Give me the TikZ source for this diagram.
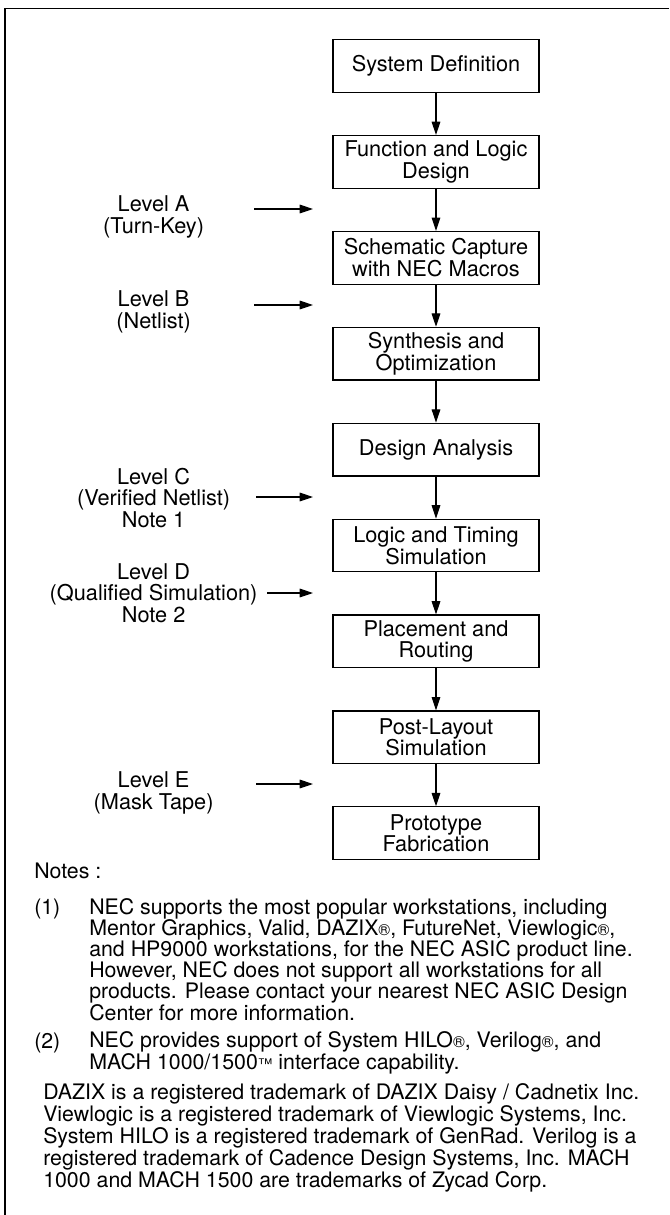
\documentclass[tikz,border=0pt]{standalone}
\usepackage{fontspec}
\setmainfont{TeX Gyre Heros}
\usetikzlibrary{arrows.meta}
\newcommand{\regd}{{\fontsize{12}{12}\selectfont ®}}
\newcommand{\tmk}{{\fontsize{11}{11}\selectfont ™}}
\tikzset{
  stage/.style={draw, line width=0.9pt, minimum width=154.5pt, minimum height=39.5pt,
    inner sep=0pt, align=center, font=\fontsize{16.3}{16.3}\selectfont},
  levelname/.style={align=center, inner sep=0pt, font=\fontsize{16.3}{16.3}\selectfont},
  flow/.style={line width=0.8pt, -{Triangle[length=10pt,width=6.5pt]}},
  notetext/.style={anchor=base west, align=left, inner sep=0pt, font=\fontsize{16}{15.9}\selectfont},
}

\begin{document}
\begin{tikzpicture}[x=0.75pt,y=-0.75pt]
            \useasboundingbox (0,0) rectangle (669,1215);
            \draw[line width=1.2pt] (669,8.5) -- (5,8.5) -- (5,1215);
            \foreach \txt [count=\i] in {System Definition, Function and Logic\\Design,
                Schematic Capture\\with NEC Macros, Synthesis and\\Optimization, Design Analysis,
                Logic and Timing\\Simulation, Placement and\\Routing, Post-Layout\\Simulation,
                Prototype\\Fabrication}
                \node[stage] (s\i) at (436, {66+95.9*(\i-1)}) {\txt};
            \foreach \i [evaluate=\i as \j using int(\i+1)] in {1,...,8}
                \draw[flow] (s\i.south) -- (s\j.north);
            \node[levelname] (levA) at (153.6,217) {Level A\\(Turn-Key)};
            \node[levelname] (levB) at (153.6,312) {Level B\\(Netlist)};
            \node[levelname] (levC) at (153.6,498) {Level C\\(Verified Netlist)\\Note 1};
            \node[levelname] (levD) at (153.6,593) {Level D\\(Qualified Simulation)\\Note 2};
            \node[levelname] (levE) at (153.6,793) {Level E\\(Mask Tape)};
            \foreach \n/\x/\y in {A/254/209, B/254/305, C/256/497, D/267/593, E/256/784}{
                \coordinate (from\n) at (\x,\y);
                \coordinate (to\n) at (313,\y);
                \draw[flow] (from\n) -- (to\n);
            }
            \node[notetext] (notes) at (34,878) {Notes :};
            \node[notetext] (n1) at (34,914) {(1)};
            \node[notetext] (n1txt) at (89,1020) {NEC supports the most popular workstations, including\\
                Mentor Graphics, Valid, DAZIX\regd, FutureNet, Viewlogic\regd,\\
                and HP9000 workstations, for the NEC ASIC product line.\\
                However, NEC does not support all workstations for all\\
                products. Please contact your nearest NEC ASIC Design\\
                Center for more information.};
            \node[notetext] (n2) at (34,1048) {(2)};
            \node[notetext] (n2txt) at (89,1069) {NEC provides support of System HILO\regd, Verilog\regd, and\\
                MACH 1000/1500\tmk\ interface capability.};
            \node[notetext, font=\fontsize{16}{15}\selectfont] (trademarks) at (43,1187) {DAZIX is a registered trademark of DAZIX Daisy / Cadnetix Inc.\\
                Viewlogic is a registered trademark of Viewlogic Systems, Inc.\\
                System HILO is a registered trademark of GenRad. Verilog is a\\
                registered trademark of Cadence Design Systems, Inc. MACH\\
                1000 and MACH 1500 are trademarks of Zycad Corp.};
        \end{tikzpicture}
\end{document}
